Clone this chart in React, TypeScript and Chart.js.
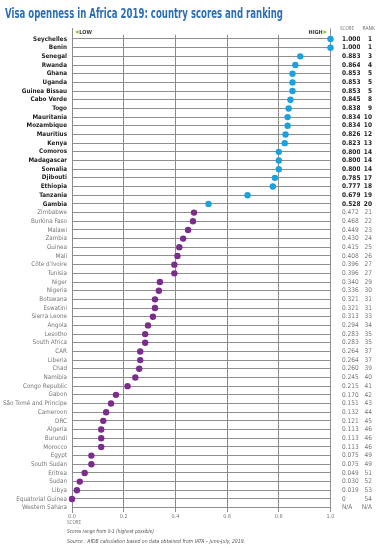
import React, { useEffect, useRef } from 'react';
import { Chart, registerables } from 'chart.js';

Chart.register(...registerables);

const countries = [
  'Seychelles', 'Benin', 'Senegal', 'Rwanda', 'Ghana', 'Uganda', 'Guinea Bissau', 'Cabo Verde', 'Togo',
  'Mauritania', 'Mozambique', 'Mauritius', 'Kenya', 'Comoros', 'Madagascar', 'Somalia', 'Djibouti',
  'Ethiopia', 'Tanzania', 'Gambia', 'Zimbabwe', 'Burkina Faso', 'Malawi', 'Zambia', 'Guinea', 'Mali',
  "Côte d'Ivoire", 'Tunisia', 'Niger', 'Nigeria', 'Botswana', 'Eswatini', 'Sierra Leone', 'Angola',
  'Lesotho', 'South Africa', 'CAR', 'Liberia', 'Chad', 'Namibia', 'Congo Republic', 'Gabon',
  'São Tomé and Principe', 'Cameroon', 'DRC', 'Algeria', 'Burundi', 'Morocco', 'Egypt', 'South Sudan',
  'Eritrea', 'Sudan', 'Libya', 'Equatorial Guinea', 'Western Sahara',
];

const scores: (number | null)[] = [
  1.0, 1.0, 0.883, 0.864, 0.853, 0.853, 0.853, 0.845, 0.838,
  0.834, 0.834, 0.826, 0.823, 0.8, 0.8, 0.8, 0.785,
  0.777, 0.679, 0.528, 0.472, 0.468, 0.449, 0.43, 0.415, 0.408,
  0.396, 0.396, 0.34, 0.336, 0.321, 0.321, 0.313, 0.294,
  0.283, 0.283, 0.264, 0.264, 0.26, 0.245, 0.215, 0.17,
  0.151, 0.132, 0.121, 0.113, 0.113, 0.113, 0.075, 0.075,
  0.049, 0.03, 0.019, 0, null,
];

const ranks = [
  '1', '1', '3', '4', '5', '5', '5', '8', '9',
  '10', '10', '12', '13', '14', '14', '14', '17',
  '18', '19', '20', '21', '22', '23', '24', '25', '26',
  '27', '27', '29', '30', '31', '31', '33', '34',
  '35', '35', '37', '37', '39', '40', '41', '42',
  '43', '44', '45', '46', '46', '46', '49', '49',
  '51', '52', '53', '54', 'N/A',
];

const xTickLabels = ['0.0', '0.2', '0.4', '0.6', '0.8', '1.0'];
const topCount = 20;

const titleText = 'Visa openness in Africa 2019: country scores and ranking';
const footnote1 = 'Scores range from 0-1 (highest possible)';
const footnote2 = 'Source : AfDB calculation based on data obtained from IATA – June-July, 2019.';

const scoreLabels = scores.map((s) => (s === null ? 'N/A' : s === 0 ? '0' : s.toFixed(3)));

const NARROW = '"Liberation Sans Narrow", "DejaVu Sans Condensed", "Roboto", Arial, sans-serif';
const GRID = '#8e8e8e';
const BLUE = '#1ba1dd';
const PURPLE = '#7c2c8c';
const DARK = '#1d1d1d';
const GREY = '#767676';
const GREEN = '#8cc63f';

const overlay = {
  id: 'overlay',
  afterDraw(chart: any) {
    const ctx = chart.ctx as CanvasRenderingContext2D;
    const area = chart.chartArea;
    const xs = chart.scales.x;
    ctx.save();
    // title
    ctx.fillStyle = '#2c6fb5';
    ctx.font = `bold 14px ${NARROW}`;
    ctx.textAlign = 'left';
    ctx.textBaseline = 'alphabetic';
    ctx.fillText(titleText, 5, 17.5, 278);

    // frame extensions
    const lx = Math.round(xs.getPixelForValue(0) - 0.5) + 0.5;
    const rx = Math.round(xs.getPixelForValue(1) - 0.5) + 0.5;
    ctx.strokeStyle = GRID;
    ctx.lineWidth = 1;
    ctx.beginPath();
    ctx.moveTo(lx, 28);
    ctx.lineTo(lx, area.top);
    ctx.moveTo(rx, 28.5);
    ctx.lineTo(rx, area.top);
    ctx.stroke();

    // LOW / HIGH
    ctx.fillStyle = GREEN;
    ctx.beginPath();
    ctx.moveTo(lx + 2.5, 32);
    ctx.lineTo(lx + 6, 30);
    ctx.lineTo(lx + 6, 34);
    ctx.closePath();
    ctx.fill();
    ctx.beginPath();
    ctx.moveTo(rx - 7, 30);
    ctx.lineTo(rx - 7, 34);
    ctx.lineTo(rx - 3.5, 32);
    ctx.closePath();
    ctx.fill();
    ctx.fillStyle = '#3a3a3a';
    ctx.font = `bold 5.5px ${NARROW}`;
    ctx.textBaseline = 'middle';
    ctx.textAlign = 'left';
    ctx.fillText('LOW', lx + 6.8, 32.2);
    ctx.textAlign = 'right';
    ctx.fillText('HIGH', rx - 7.8, 32.2);

    // column headers
    ctx.fillStyle = GREY;
    ctx.font = `5.5px ${NARROW}`;
    ctx.textAlign = 'left';
    ctx.fillText('SCORE', 340, 28.5, 14);
    ctx.fillText('RANK', 362.5, 28.5, 12.5);

    // axis title
    ctx.fillText('SCORE', 67, 522.7, 14);

    // footnotes
    ctx.fillStyle = '#555555';
    ctx.font = `italic 5.5px ${NARROW}`;
    ctx.fillText(footnote1, 67, 531.7, 87);
    ctx.fillText(footnote2, 67, 541.7, 178);
    ctx.restore();
  },
};

const tickFont = (c: any) => ({
  size: 6.3,
  family: NARROW,
  weight: c.index < topCount ? 'bold' : 'normal',
});
const numFont = (c: any) => ({
  size: 6.5,
  family: NARROW,
  weight: c.index < topCount ? 'bold' : 'normal',
});
const tickColor = (c: any) => (c.index < topCount ? DARK : GREY);

export default function App() {
  const ref = useRef<HTMLCanvasElement | null>(null);

  useEffect(() => {
    if (!ref.current) return;
    const points = countries
      .map((c, i) => ({ x: scores[i], y: c }))
      .filter((p) => p.x !== null);

    const chart = new Chart(ref.current, {
      type: 'scatter',
      data: {
        labels: countries,
        datasets: [
          {
            data: points as any,
            pointRadius: 3.2,
            pointBorderWidth: 0,
            pointBackgroundColor: (c: any) => (c.dataIndex < topCount ? BLUE : PURPLE),
            pointBorderColor: (c: any) => (c.dataIndex < topCount ? BLUE : PURPLE),
            clip: false as any,
          },
        ],
      },
      options: {
        animation: false,
        responsive: false,
        maintainAspectRatio: false,
        layout: { padding: { left: 0, right: 13, top: 34.66, bottom: 0 } },
        plugins: {
          legend: { display: false },
          tooltip: { enabled: false },
          title: { display: false },
        },
        scales: {
          x: {
            type: 'linear',
            position: 'bottom',
            min: 0,
            max: 1,
            ticks: {
              stepSize: 0.2,
              autoSkip: false,
              maxRotation: 0,
              padding: 1,
              color: GREY,
              font: { size: 5.5, family: NARROW },
              callback: (_v: any, i: number) => xTickLabels[i],
            },
            grid: { color: GRID, lineWidth: 1, drawTicks: false },
            border: { display: false },
            afterFit: (s: any) => {
              s.height = 37;
            },
          },
          y: {
            type: 'category',
            labels: countries,
            position: 'left',
            offset: true,
            ticks: {
              autoSkip: false,
              padding: 5,
              color: tickColor,
              font: tickFont,
            },
            grid: { color: GRID, lineWidth: 1, drawTicks: false, offset: false },
            border: { display: true, color: GRID, width: 1 },
            afterFit: (s: any) => {
              s.width = 72;
            },
          },
          y2: {
            type: 'category',
            labels: scoreLabels,
            position: 'right',
            offset: true,
            weight: 0,
            ticks: {
              autoSkip: false,
              padding: 11.5,
              crossAlign: 'near',
              color: tickColor,
              font: numFont,
            },
            grid: { display: false, drawTicks: false },
            border: { display: false },
            afterFit: (s: any) => {
              s.width = 29.5;
            },
          },
          y3: {
            type: 'category',
            labels: ranks,
            position: 'right',
            offset: true,
            weight: 1,
            ticks: {
              autoSkip: false,
              padding: 0,
              crossAlign: 'far',
              color: tickColor,
              font: numFont,
            },
            grid: { display: false, drawTicks: false },
            border: { display: false },
            afterFit: (s: any) => {
              s.width = 12;
            },
          },
        } as any,
      },
      plugins: [overlay],
    });
    return () => chart.destroy();
  }, []);

  return (
    <div style={{ position: 'absolute', left: 0, top: 0, width: 385, height: 549, background: '#fff' }}>
      <canvas ref={ref} width={385} height={549} />
    </div>
  );
}
